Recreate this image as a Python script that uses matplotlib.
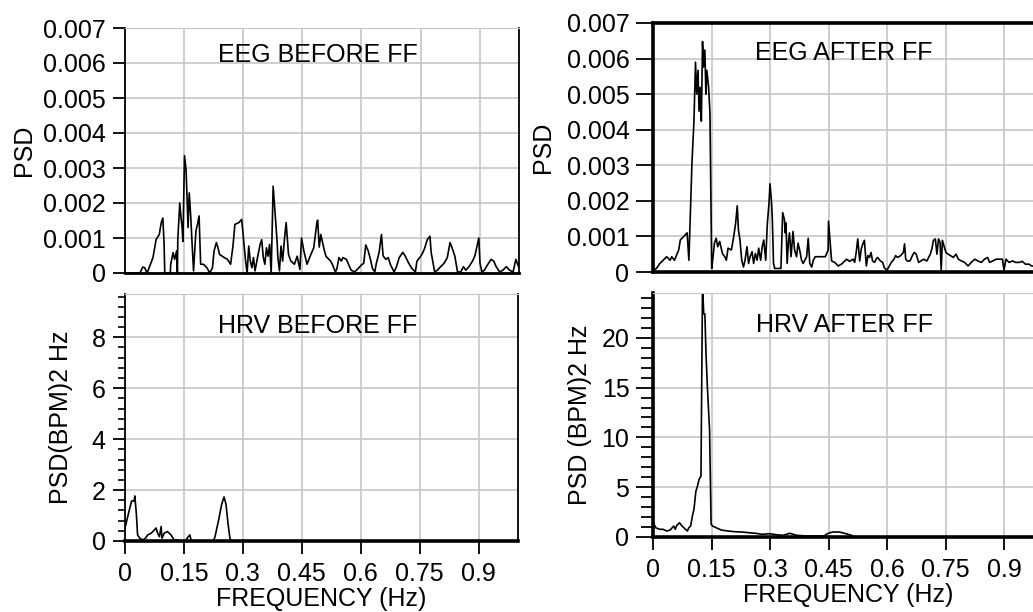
import numpy as np
import matplotlib
matplotlib.use("Agg")
import matplotlib.pyplot as plt
from matplotlib.ticker import FixedLocator, FixedFormatter, MultipleLocator

# ---- data (freq in Hz, EEG PSD in units of 1e-3) ----
eeg_before_f = [
    0.0, 0.038, 0.045, 0.05, 0.056, 0.071, 0.079, 0.087, 0.092, 0.096,
    0.099, 0.101, 0.115, 0.116, 0.122, 0.126, 0.131, 0.133, 0.134, 0.139,
    0.142, 0.145, 0.147, 0.151, 0.155, 0.157, 0.16, 0.163, 0.167, 0.17,
    0.174, 0.18, 0.184, 0.188, 0.19, 0.192, 0.199, 0.208, 0.215, 0.222,
    0.226, 0.232, 0.236, 0.24, 0.252, 0.26, 0.268, 0.274, 0.279, 0.289,
    0.296, 0.299, 0.306, 0.31, 0.314, 0.318, 0.322, 0.326, 0.33, 0.337,
    0.343, 0.347, 0.351, 0.355, 0.359, 0.363, 0.367, 0.371, 0.376, 0.38,
    0.383, 0.386, 0.388, 0.392, 0.396, 0.4, 0.405, 0.409, 0.415, 0.421,
    0.43, 0.437, 0.444, 0.448, 0.454, 0.462, 0.47, 0.479, 0.487, 0.489,
    0.493, 0.497, 0.5, 0.506, 0.51, 0.514, 0.522, 0.527, 0.534, 0.538,
    0.543, 0.549, 0.553, 0.562, 0.568, 0.574, 0.583, 0.592, 0.6, 0.606,
    0.611, 0.617, 0.623, 0.628, 0.634, 0.638, 0.645, 0.651, 0.655, 0.662,
    0.668, 0.674, 0.683, 0.689, 0.696, 0.705, 0.711, 0.72, 0.728, 0.737,
    0.741, 0.748, 0.754, 0.76, 0.767, 0.774, 0.777, 0.782, 0.786, 0.793,
    0.801, 0.81, 0.818, 0.825, 0.831, 0.837, 0.844, 0.852, 0.859, 0.865,
    0.873, 0.882, 0.888, 0.893, 0.898, 0.901, 0.906, 0.912, 0.92, 0.929,
    0.936, 0.942, 0.951, 0.959, 0.968, 0.976, 0.985, 0.992, 0.999,
]
eeg_before_psd = [
    0, 0, 0.17, 0.15, 0, 0.44, 0.96, 1.1, 1.44, 1.57,
    0.9, 0, 0, 0.25, 0.58, 0.39, 0.63, 0, 0.96, 2.0,
    1.6, 1.3, 0.9, 3.35, 2.95, 2.29, 1.3, 2.29, 1.58, 0.9,
    0.06, 1.2, 1.39, 1.63, 0.9, 0.25, 0.25, 0.15, 0, 0.15,
    0.63, 0.87, 0.72, 0.53, 0.44, 0.39, 0.25, 0.77, 1.39, 1.44,
    1.53, 1.2, 0.34, 0, 0.77, 0.34, 0.15, 0.44, 0.06, 0.48,
    0.82, 0.95, 0.44, 0.25, 0.72, 0.48, 0.82, 0, 2.48, 1.86,
    1.39, 0.91, 0.44, 0.06, 0.77, 0.34, 1.0, 1.44, 0.53, 0.34,
    0.25, 0.48, 0.1, 1.0, 0.63, 0.25, 0.48, 0.72, 1.44, 1.51,
    0.74, 1.1, 0.95, 0.64, 0.48, 0.43, 0.34, 0.23, 0.03, 0.13,
    0.44, 0.34, 0.44, 0.39, 0.23, 0.08, 0.03, 0.13, 0.23, 0.28,
    0.8, 0.64, 0.39, 0.13, 0.03, 0.28, 0.59, 1.1, 0.49, 0.39,
    0.44, 0.23, 0.03, 0.18, 0.44, 0.59, 0.49, 0.28, 0.13, 0.03,
    0.34, 0.44, 0.54, 0.69, 0.95, 1.05, 0.59, 0.28, 0.03, 0.08,
    0.18, 0.28, 0.44, 0.87, 0.69, 0.49, 0.03, 0.03, 0.18, 0.08,
    0.18, 0.34, 0.49, 0.74, 1.0, 0.28, 0.03, 0.08, 0.23, 0.39,
    0.34, 0.18, 0.03, 0.08, 0.18, 0.08, 0.03, 0.39, 0.18,
]

eeg_after_f = [
    0.0, 0.009, 0.0175, 0.026, 0.035, 0.044, 0.048, 0.055, 0.066, 0.07,
    0.079, 0.0875, 0.092, 0.096, 0.1, 0.105, 0.109, 0.112, 0.1155, 0.118,
    0.121, 0.124, 0.127, 0.1295, 0.133, 0.1356, 0.138, 0.1426, 0.146, 0.1505,
    0.153, 0.1575, 0.162, 0.166, 0.171, 0.178, 0.184, 0.188, 0.1925, 0.201,
    0.207, 0.212, 0.216, 0.219, 0.223, 0.2275, 0.232, 0.236, 0.241, 0.245,
    0.249, 0.254, 0.258, 0.2625, 0.267, 0.271, 0.276, 0.28, 0.284, 0.289,
    0.293, 0.2975, 0.3, 0.304, 0.306, 0.309, 0.312, 0.328, 0.3325, 0.337,
    0.339, 0.341, 0.344, 0.347, 0.35, 0.354, 0.359, 0.363, 0.368, 0.372,
    0.376, 0.381, 0.385, 0.394, 0.398, 0.402, 0.407, 0.411, 0.416, 0.424,
    0.433, 0.442, 0.449, 0.45, 0.455,
    0.458, 0.466, 0.475, 0.483, 0.492, 0.496, 0.504, 0.513, 0.517, 0.521,
    0.525, 0.53, 0.534, 0.538, 0.542, 0.547, 0.551, 0.555, 0.559, 0.563,
    0.568, 0.572, 0.576, 0.583, 0.589, 0.593, 0.6, 0.606, 0.611, 0.618,
    0.622, 0.627, 0.635, 0.642, 0.645, 0.648, 0.652, 0.659, 0.665, 0.67,
    0.675, 0.681, 0.687, 0.694, 0.702, 0.711, 0.715, 0.719, 0.724, 0.728,
    0.732, 0.736, 0.739, 0.742, 0.746, 0.751, 0.757, 0.763, 0.77, 0.777,
    0.783, 0.791, 0.799, 0.808, 0.816, 0.825, 0.833, 0.842, 0.85, 0.858,
    0.863, 0.871, 0.88, 0.888, 0.896, 0.9, 0.905, 0.913, 0.922, 0.93,
    0.939, 0.947, 0.955, 0.964, 0.971, 1.0,
]
eeg_after_psd = [
    0.05, 0.1, 0.24, 0.33, 0.43, 0.33, 0.43, 0.33, 0.62, 0.9,
    1.0, 1.1, 0.33, 1.71, 3.1, 4.24, 5.9, 5.0, 5.67, 4.52,
    5.19, 4.24, 6.48, 5.76, 6.24, 5.0, 5.67, 5.19, 4.48, 0.1,
    0.33, 0.81, 0.95, 0.71, 0.86, 0.52, 0.43, 0.33, 0.67, 0.62,
    1.0, 1.38, 1.86, 1.19, 0.9, 0.33, 0.14, 0.33, 0.71, 0.24,
    0.43, 0.57, 0.24, 0.52, 0.33, 0.67, 0.33, 0.71, 0.9, 0.33,
    1.33, 1.95, 2.48, 1.95, 1.48, 0.24, 0.1, 0.1, 1.67, 1.48,
    1.1, 1.38, 0.24, 0.81, 1.1, 0.43, 1.14, 0.62, 0.43, 0.81,
    0.62, 0.33, 0.24, 0.43, 0.95, 0.24, 0.14, 0.33, 0.43, 0.43,
    0.43, 0.43, 0.62, 1.43, 0.71,
    0.31, 0.27, 0.17, 0.22, 0.31, 0.36, 0.3, 0.36, 0.27, 0.55,
    0.93, 0.31, 0.65, 0.79, 0.89, 0.17, 0.46, 0.41, 0.55, 0.31,
    0.27, 0.36, 0.41, 0.31, 0.27, 0.12, 0.05, 0.17, 0.27, 0.36,
    0.46, 0.41, 0.46, 0.55, 0.79, 0.36, 0.31, 0.31, 0.46, 0.55,
    0.5, 0.27, 0.31, 0.36, 0.31, 0.5, 0.65, 0.89, 0.93, 0.5,
    0.93, 0.84, 0.05, 0.89, 0.74, 0.55, 0.5, 0.46, 0.41, 0.5,
    0.36, 0.31, 0.27, 0.17, 0.27, 0.36, 0.31, 0.27, 0.36, 0.41,
    0.27, 0.31, 0.36, 0.36, 0.36, 0.05, 0.36, 0.27, 0.31, 0.27,
    0.27, 0.3, 0.22, 0.22, 0.17, 0.15,
]

hrv_before_f = [
    0.0, 0.004, 0.0125, 0.0167, 0.023, 0.025, 0.029, 0.032, 0.0375, 0.046,
    0.052, 0.058, 0.067, 0.075, 0.079, 0.083, 0.0875, 0.092, 0.094, 0.1,
    0.108, 0.117, 0.125, 0.133, 0.142, 0.154, 0.158, 0.165, 0.168, 0.175,
    0.225, 0.229, 0.2375, 0.246, 0.252, 0.257, 0.2625, 0.267, 0.271, 1.0,
]
hrv_before_psd = [
    0.51, 0.77, 1.31, 1.57, 1.57, 1.77, 1.04, 0.24, 0.11, 0.04,
    0.11, 0.24, 0.31, 0.44, 0.51, 0.31, 0.17, 0.57, 0.11, 0.31,
    0.37, 0.24, 0.04, 0.04, 0.0, 0.0, 0.11, 0.24, 0.04, 0.0,
    0.0, 0.17, 0.77, 1.44, 1.73, 1.44, 0.64, 0.11, 0.0, 0.0,
]

hrv_after_f = [
    0.0, 0.003, 0.007, 0.0175, 0.026, 0.035, 0.044, 0.053, 0.057, 0.061,
    0.068, 0.0745, 0.079, 0.088, 0.092, 0.0965, 0.101, 0.105, 0.11, 0.114,
    0.118, 0.123, 0.127, 0.13, 0.133, 0.136, 0.14, 0.145, 0.149, 0.153,
    0.162, 0.175, 0.193, 0.21, 0.228, 0.246, 0.263, 0.28, 0.298, 0.316,
    0.333, 0.351, 0.368, 0.395, 0.4385, 0.447, 0.46, 0.478, 0.491, 0.509,
    0.517, 1.0,
]
hrv_after_psd = [
    1.77, 1.27, 0.93, 0.77, 0.77, 0.6, 0.7, 1.1, 0.77, 1.17,
    1.43, 1.1, 0.93, 0.6, 0.93, 1.1, 2.1, 2.77, 4.6, 5.1,
    5.77, 6.1, 25.5, 22.4, 22.4, 18.3, 14.6, 10.8, 1.27, 1.1,
    0.93, 0.7, 0.6, 0.53, 0.5, 0.43, 0.37, 0.27, 0.33, 0.23,
    0.17, 0.37, 0.17, 0.1, 0.1, 0.33, 0.5, 0.5, 0.37, 0.17,
    0.0, 0.0,
]

freq_ticks = [0, 0.15, 0.3, 0.45, 0.6, 0.75, 0.9]
freq_labels = ["0", "0.15", "0.3", "0.45", "0.6", "0.75", "0.9"]
eeg_ticks = [0, 0.001, 0.002, 0.003, 0.004, 0.005, 0.006, 0.007]
eeg_labels = ["0", "0.001", "0.002", "0.003", "0.004", "0.005", "0.006", "0.007"]
hrv_before_ticks = [0, 2, 4, 6, 8]
hrv_after_ticks = [0, 5, 10, 15, 20]

plt.rcParams["font.family"] = ["Liberation Sans", "DejaVu Sans"]
FS = 18
GRID = "#c6c6c6"
W, H = 1033, 612

fig = plt.figure(figsize=(W / 100, H / 100), dpi=100)


def add_ax(x0, y0, x1, y1):
    return fig.add_axes([x0 / W, 1 - y1 / H, (x1 - x0) / W, (y1 - y0) / H])


def setup(ax, yticks, ylabels, ylim, bottom_row, thick_left, title, title_y, ylabel, ylab_x):
    ax.set_xlim(0, 1.0)
    ax.set_ylim(*ylim)
    ax.xaxis.set_major_locator(FixedLocator(freq_ticks))
    ax.yaxis.set_major_locator(FixedLocator(yticks))
    ax.yaxis.set_major_formatter(FixedFormatter(ylabels))
    ax.grid(True, color=GRID, lw=1.2)
    ax.set_axisbelow(True)
    if bottom_row:
        ax.xaxis.set_major_formatter(FixedFormatter(freq_labels))
        ax.tick_params(axis="x", length=9, width=1.3, labelsize=FS, pad=6)
        ax.set_xlabel("FREQUENCY (Hz)", fontsize=FS, labelpad=1)
    else:
        ax.tick_params(axis="x", length=0, labelbottom=False)
    ax.tick_params(axis="y", length=9 if not thick_left else 12, width=1.3,
                   labelsize=FS, pad=5)
    ax.spines["left"].set_linewidth(2.6 if thick_left else 1.3)
    ax.spines["bottom"].set_linewidth(2.6)
    ax.spines["right"].set_linewidth(1.3)
    ax.text(0.49, title_y, title, transform=ax.transAxes, ha="center",
            va="center", fontsize=FS)
    ax.set_ylabel(ylabel, fontsize=FS, va="center")
    ax.yaxis.set_label_coords(ylab_x, 0.5)


# EEG before
ax1 = add_ax(125, 28, 519, 273)
ax1.plot(eeg_before_f, np.array(eeg_before_psd) * 1e-3, color="black", lw=1.2)
setup(ax1, eeg_ticks, eeg_labels, (0, 0.007), False, False,
      "EEG BEFORE FF", 0.89, "PSD", -0.256)
ax1.spines["top"].set_color(GRID)
ax1.spines["bottom"].set_linewidth(2.0)

# EEG after
ax2 = add_ax(653, 23, 1043, 272)
ax2.plot(eeg_after_f, np.array(eeg_after_psd) * 1e-3, color="black", lw=1.2)
setup(ax2, eeg_ticks, eeg_labels, (0, 0.007), False, True,
      "EEG AFTER FF", 0.88, "PSD", -0.282)
ax2.spines["top"].set_linewidth(2.6)

# HRV before
ax3 = add_ax(125, 294, 518, 541)
ax3.plot(hrv_before_f, hrv_before_psd, color="black", lw=1.2)
setup(ax3, hrv_before_ticks, [str(t) for t in hrv_before_ticks], (0, 9.7), True, False,
      "HRV BEFORE FF", 0.872, "PSD(BPM)2 Hz", -0.163)
ax3.yaxis.set_minor_locator(MultipleLocator(0.4))
ax3.tick_params(axis="y", which="minor", length=5, width=1.2)
ax3.spines["top"].set_color(GRID)

# HRV after
ax4 = add_ax(653, 293, 1043, 537)
ax4.plot(hrv_after_f, hrv_after_psd, color="black", lw=1.2)
setup(ax4, hrv_after_ticks, [str(t) for t in hrv_after_ticks], (0, 24.5), True, True,
      "HRV AFTER FF", 0.869, "PSD (BPM)2 Hz", -0.187)
ax4.yaxis.set_minor_locator(MultipleLocator(1))
ax4.tick_params(axis="y", which="minor", length=9, width=1.3)
ax4.spines["top"].set_color(GRID)

fig.savefig("out.png", dpi=100)
